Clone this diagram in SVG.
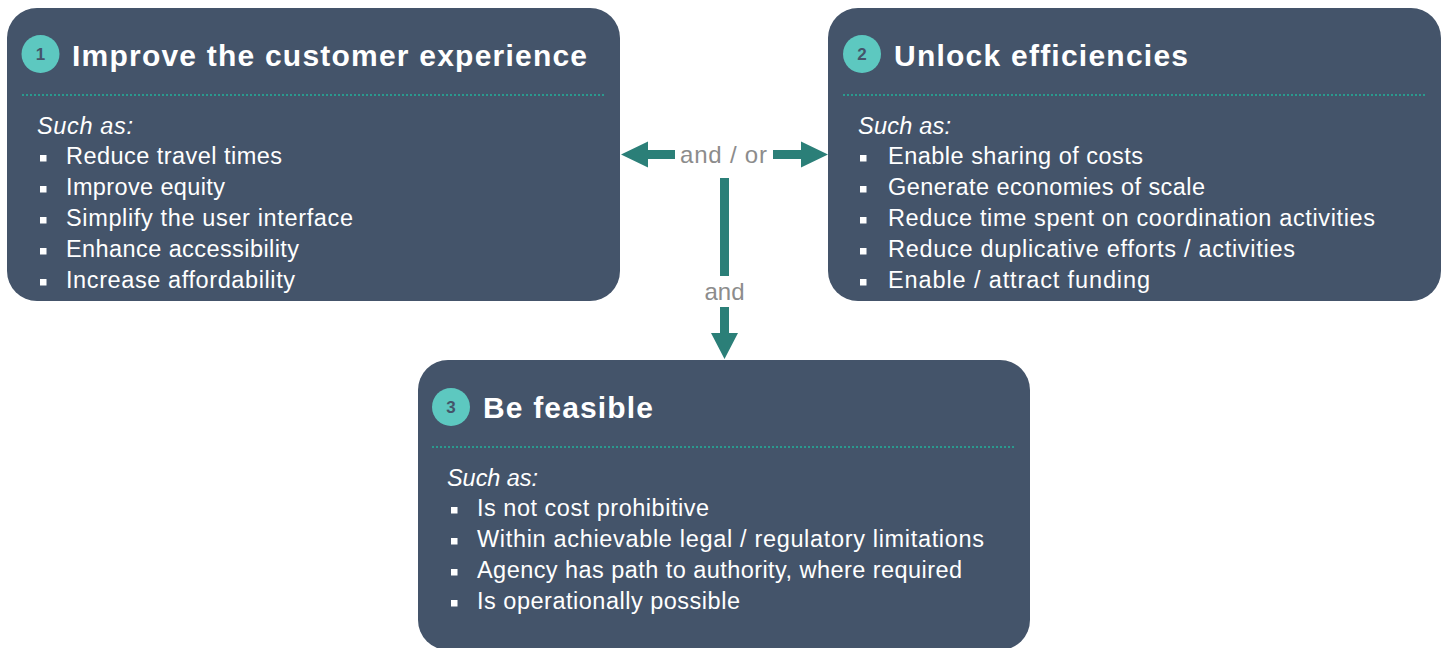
<svg xmlns="http://www.w3.org/2000/svg" width="1443" height="648" viewBox="0 0 1443 648">
<defs>
<style>
.box{fill:#44546A;}
.num{fill:#5DC8C0;}
.numt{font-family:"Liberation Sans",Arial,sans-serif;font-weight:bold;font-size:17px;fill:#44546A;text-anchor:middle;}
.title{font-family:"Liberation Sans",Arial,sans-serif;font-weight:bold;font-size:30px;fill:#FFFFFF;}
.such{font-family:"Liberation Sans",Arial,sans-serif;font-style:italic;font-size:23.5px;fill:#FFFFFF;}
.item{font-family:"Liberation Sans",Arial,sans-serif;font-size:23.5px;fill:#FFFFFF;}
.dots{stroke:#2A9A8E;stroke-width:2;stroke-dasharray:2 2;fill:none;}
.bul{fill:#FFFFFF;}
.conn{fill:#2B7F78;}
.lbl{font-family:"Liberation Sans",Arial,sans-serif;font-size:24px;fill:#8C8C8C;}
</style>
</defs>
<rect width="1443" height="648" fill="#FFFFFF"/>

<g id="node1">
<rect class="box" x="7" y="8" width="613" height="293" rx="30" ry="30"/>
<circle class="num" cx="40.5" cy="54" r="19"/>
<text class="numt" x="40.5" y="60">1</text>
<text class="title" x="72" y="66" textLength="515" lengthAdjust="spacing">Improve the customer experience</text>
<line class="dots" x1="22" y1="95" x2="605" y2="95"/>
<text class="such" x="37" y="134" textLength="96" lengthAdjust="spacing">Such as:</text>
<rect class="bul" x="40" y="155" width="6.5" height="6.5"/>
<text class="item" x="66" y="164" textLength="216" lengthAdjust="spacing">Reduce travel times</text>
<rect class="bul" x="40" y="186" width="6.5" height="6.5"/>
<text class="item" x="66" y="195" textLength="159" lengthAdjust="spacing">Improve equity</text>
<rect class="bul" x="40" y="217" width="6.5" height="6.5"/>
<text class="item" x="66" y="226" textLength="287" lengthAdjust="spacing">Simplify the user interface</text>
<rect class="bul" x="40" y="248" width="6.5" height="6.5"/>
<text class="item" x="66" y="257" textLength="233" lengthAdjust="spacing">Enhance accessibility</text>
<rect class="bul" x="40" y="279" width="6.5" height="6.5"/>
<text class="item" x="66" y="288" textLength="229" lengthAdjust="spacing">Increase affordability</text>
</g>

<g id="node2">
<rect class="box" x="828" y="8" width="613" height="293" rx="30" ry="30"/>
<circle class="num" cx="862" cy="54" r="19"/>
<text class="numt" x="862" y="60">2</text>
<text class="title" x="894" y="66" textLength="294" lengthAdjust="spacing">Unlock efficiencies</text>
<line class="dots" x1="843" y1="95" x2="1425" y2="95"/>
<text class="such" x="858" y="134" textLength="93" lengthAdjust="spacing">Such as:</text>
<rect class="bul" x="860" y="155" width="6.5" height="6.5"/>
<text class="item" x="888" y="164" textLength="255" lengthAdjust="spacing">Enable sharing of costs</text>
<rect class="bul" x="860" y="186" width="6.5" height="6.5"/>
<text class="item" x="888" y="195" textLength="317" lengthAdjust="spacing">Generate economies of scale</text>
<rect class="bul" x="860" y="217" width="6.5" height="6.5"/>
<text class="item" x="888" y="226" textLength="487" lengthAdjust="spacing">Reduce time spent on coordination activities</text>
<rect class="bul" x="860" y="248" width="6.5" height="6.5"/>
<text class="item" x="888" y="257" textLength="407" lengthAdjust="spacing">Reduce duplicative efforts / activities</text>
<rect class="bul" x="860" y="279" width="6.5" height="6.5"/>
<text class="item" x="888" y="288" textLength="262" lengthAdjust="spacing">Enable / attract funding</text>
</g>

<g id="node3">
<rect class="box" x="418" y="360" width="612" height="290" rx="30" ry="30"/>
<circle class="num" cx="451" cy="407" r="19"/>
<text class="numt" x="451" y="413">3</text>
<text class="title" x="483" y="418" textLength="170" lengthAdjust="spacing">Be feasible</text>
<line class="dots" x1="432" y1="447" x2="1016" y2="447"/>
<text class="such" x="447" y="486" textLength="91" lengthAdjust="spacing">Such as:</text>
<rect class="bul" x="451" y="507" width="6.5" height="6.5"/>
<text class="item" x="477" y="516" textLength="232" lengthAdjust="spacing">Is not cost prohibitive</text>
<rect class="bul" x="451" y="538" width="6.5" height="6.5"/>
<text class="item" x="477" y="547" textLength="507" lengthAdjust="spacing">Within achievable legal / regulatory limitations</text>
<rect class="bul" x="451" y="569" width="6.5" height="6.5"/>
<text class="item" x="477" y="578" textLength="485" lengthAdjust="spacing">Agency has path to authority, where required</text>
<rect class="bul" x="451" y="600" width="6.5" height="6.5"/>
<text class="item" x="477" y="609" textLength="263" lengthAdjust="spacing">Is operationally possible</text>
</g>

<g id="connectors">
<polygon class="conn" points="621,154.5 648,141.5 648,150 675,150 675,159 648,159 648,167.5"/>
<polygon class="conn" points="828,154.5 801,141.5 801,150 773,150 773,159 801,159 801,167.5"/>
<text class="lbl" x="680" y="163" textLength="87" lengthAdjust="spacing">and / or</text>
<rect class="conn" x="720" y="178" width="9" height="98"/>
<text class="lbl" x="724.5" y="300" text-anchor="middle">and</text>
<polygon class="conn" points="720,307 729,307 729,333 738,333 724.5,359 711,333 720,333"/>
</g>
</svg>
